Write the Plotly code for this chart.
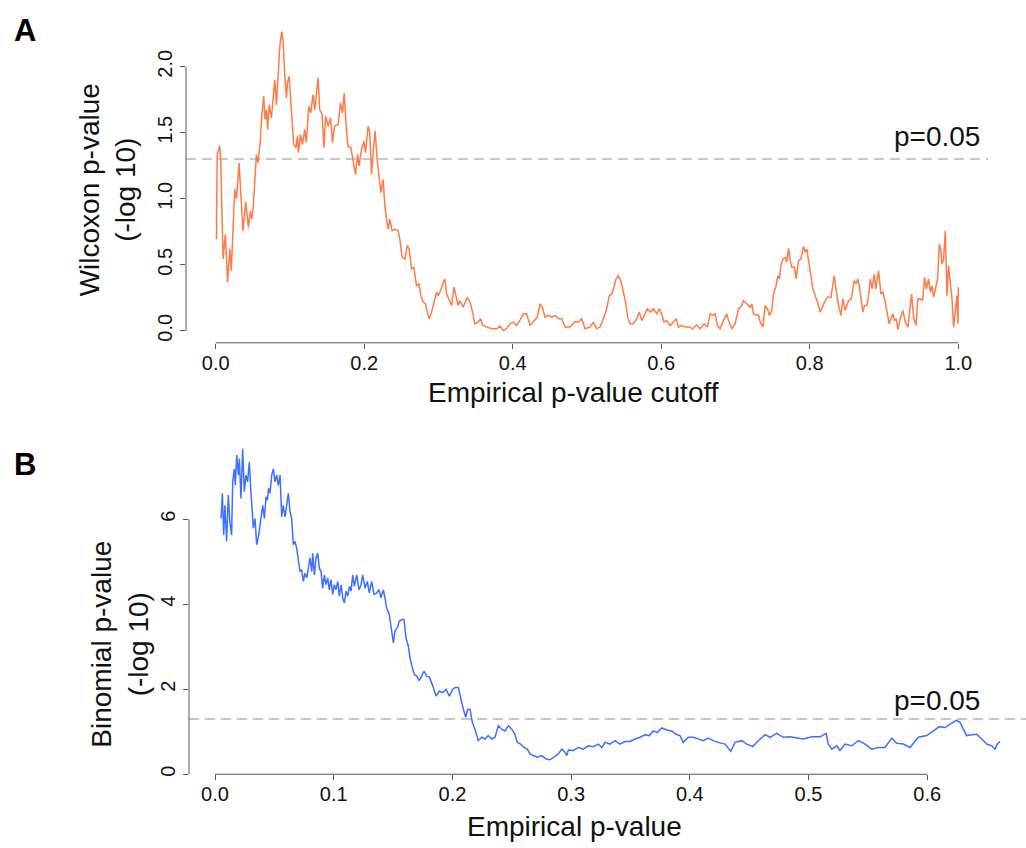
import plotly.graph_objects as go

# ---------------- Panel A data: Wilcoxon p-value (-log10) vs empirical p-value cutoff
A_points = [
    (0.001, 0.694), (0.002, 1.336), (0.0054, 1.40), (0.0067, 1.30), (0.0099, 0.543), (0.013, 0.73),
    (0.016, 0.367), (0.019, 0.62), (0.021, 0.455), (0.0225, 0.694), (0.0256, 1.07), (0.028, 1.0),
    (0.0315, 1.27), (0.0337, 1.047), (0.0368, 0.757), (0.0404, 0.976), (0.044, 0.782), (0.0467, 0.908),
    (0.0485, 0.845), (0.0503, 0.92), (0.0526, 1.147), (0.0548, 1.336), (0.057, 1.27), (0.060, 1.436),
    (0.062, 1.625), (0.0647, 1.776), (0.0665, 1.6), (0.0683, 1.675), (0.070, 1.525), (0.072, 1.713),
    (0.075, 1.613), (0.0795, 1.90), (0.0818, 1.713), (0.084, 1.889), (0.0863, 2.153), (0.089, 2.266),
    (0.0907, 2.20), (0.093, 1.94), (0.0953, 1.763), (0.0966, 1.877), (0.0988, 1.927), (0.1007, 1.776),
    (0.1028, 1.625), (0.105, 1.411), (0.108, 1.386), (0.110, 1.474), (0.1114, 1.349), (0.1141, 1.487),
    (0.1168, 1.411), (0.120, 1.525), (0.122, 1.424), (0.1253, 1.70), (0.128, 1.65), (0.131, 1.789),
    (0.1334, 1.675), (0.1357, 1.826), (0.1379, 1.915), (0.140, 1.675), (0.1433, 1.638), (0.1456, 1.386),
    (0.148, 1.625), (0.1514, 1.55), (0.1546, 1.613), (0.1573, 1.424), (0.160, 1.55), (0.165, 1.562),
    (0.168, 1.726), (0.1707, 1.65), (0.173, 1.80), (0.176, 1.525), (0.178, 1.40), (0.182, 1.386),
    (0.185, 1.30), (0.1883, 1.185), (0.191, 1.336), (0.193, 1.248), (0.1963, 1.374), (0.1995, 1.436),
    (0.2017, 1.349), (0.2053, 1.55), (0.2075, 1.50), (0.2098, 1.185), (0.212, 1.349), (0.2147, 1.512),
    (0.2174, 1.30), (0.220, 1.172), (0.2224, 1.047), (0.2255, 1.147), (0.2278, 0.946), (0.230, 0.845),
    (0.2323, 0.77), (0.2345, 0.845), (0.2376, 0.757), (0.2412, 0.77), (0.2457, 0.757), (0.248, 0.694),
    (0.251, 0.556), (0.2547, 0.543), (0.2578, 0.644), (0.2605, 0.619), (0.2637, 0.468), (0.2668, 0.481),
    (0.2704, 0.342), (0.2736, 0.355), (0.2763, 0.266), (0.2794, 0.217), (0.2826, 0.204), (0.2848, 0.141),
    (0.2875, 0.091), (0.2907, 0.141), (0.2938, 0.217), (0.2974, 0.292), (0.2996, 0.266), (0.3028, 0.304),
    (0.3064, 0.367), (0.3086, 0.392), (0.311, 0.279), (0.3144, 0.229), (0.3176, 0.191), (0.3208, 0.33),
    (0.3235, 0.266), (0.3266, 0.191),
    (0.3288, 0.229), (0.3333, 0.179), (0.3387, 0.254), (0.3423, 0.217), (0.346, 0.141), (0.349, 0.053),
    (0.3535, 0.066), (0.3567, 0.091), (0.3594, 0.04), (0.3648, 0.028), (0.3715, 0.015), (0.3783, 0.015),
    (0.3827, 0.035), (0.3872, 0.002), (0.3917, 0.015), (0.3962, 0.053), (0.4007, 0.066), (0.4052, 0.04),
    (0.4097, 0.078), (0.4142, 0.128), (0.4187, 0.128), (0.4232, 0.04), (0.4277, 0.066), (0.433, 0.103),
    (0.4367, 0.204), (0.440, 0.179), (0.4434, 0.103), (0.448, 0.116), (0.4524, 0.103), (0.4569, 0.116),
    (0.4614, 0.091), (0.466, 0.091), (0.4704, 0.028), (0.4771, 0.028), (0.4838, 0.07), (0.4883, 0.066),
    (0.4928, 0.091), (0.4973, 0.015), (0.504, 0.028), (0.5085, 0.066), (0.513, 0.015), (0.5175, 0.028),
    (0.522, 0.091), (0.5265, 0.166), (0.530, 0.266), (0.5333, 0.279), (0.5364, 0.33), (0.539, 0.392),
    (0.5422, 0.417), (0.5454, 0.38), (0.549, 0.292), (0.552, 0.217), (0.5548, 0.103), (0.558, 0.053),
    (0.5624, 0.053), (0.567, 0.091), (0.5705, 0.141), (0.5737, 0.078), (0.5782, 0.128), (0.5813, 0.166),
    (0.585, 0.141), (0.5894, 0.166), (0.594, 0.128), (0.5974, 0.166), (0.6006, 0.128), (0.6038, 0.066),
    (0.6074, 0.078), (0.6119, 0.04), (0.6164, 0.066), (0.62, 0.091), (0.6231, 0.028), (0.6276, 0.04),
    (0.632, 0.028), (0.638, 0.028), (0.6424, 0.015), (0.6478, 0.045), (0.6523, 0.015), (0.6577, 0.053),
    (0.6622, 0.028), (0.6658, 0.128), (0.6694, 0.116), (0.6725, 0.128), (0.6756, 0.04), (0.6792, 0.015),
    (0.6837, 0.078), (0.6883, 0.128), (0.6905, 0.078), (0.695, 0.015), (0.6995, 0.053), (0.704, 0.166),
    (0.7085, 0.191),
    (0.7107, 0.229), (0.7152, 0.204), (0.7197, 0.179), (0.722, 0.204), (0.7242, 0.128), (0.731, 0.116),
    (0.7332, 0.066), (0.7368, 0.028), (0.74, 0.191), (0.743, 0.166), (0.7457, 0.116), (0.7489, 0.153),
    (0.7511, 0.279), (0.7547, 0.342), (0.757, 0.417), (0.7592, 0.392), (0.761, 0.493), (0.7637, 0.543),
    (0.7668, 0.556), (0.769, 0.518), (0.7713, 0.624), (0.7736, 0.531), (0.7758, 0.481), (0.7794, 0.481),
    (0.7817, 0.392), (0.7848, 0.531), (0.788, 0.543), (0.7915, 0.639), (0.7938, 0.594), (0.796, 0.619),
    (0.7983, 0.531), (0.8015, 0.392), (0.8042, 0.317), (0.8073, 0.266), (0.8105, 0.217), (0.814, 0.141),
    (0.8177, 0.191), (0.8208, 0.229), (0.824, 0.254), (0.8285, 0.254), (0.8312, 0.355), (0.833, 0.417),
    (0.8356, 0.304), (0.8388, 0.191), (0.842, 0.116), (0.8446, 0.242), (0.8477, 0.153), (0.8522, 0.229),
    (0.8558, 0.242), (0.858, 0.304), (0.8598, 0.38), (0.8625, 0.355), (0.8647, 0.392), (0.867, 0.33),
    (0.8688, 0.242), (0.8715, 0.141), (0.8737, 0.191), (0.8769, 0.191), (0.879, 0.254), (0.8814, 0.392),
    (0.884, 0.317), (0.8868, 0.43), (0.889, 0.317), (0.8926, 0.455), (0.8958, 0.279), (0.8985, 0.292),
    (0.9016, 0.217), (0.9039, 0.153), (0.907, 0.053), (0.9093, 0.091), (0.912, 0.128), (0.9142, 0.078),
    (0.9164, 0.091), (0.9187, 0.008), (0.9218, 0.091), (0.9254, 0.153), (0.9286, 0.066), (0.9322, 0.028),
    (0.9344, 0.153), (0.9371, 0.279), (0.9398, 0.103), (0.943, 0.04), (0.9457, 0.242), (0.9488, 0.242),
    (0.9519, 0.229), (0.9546, 0.405), (0.9569, 0.317), (0.96, 0.392), (0.9623, 0.292), (0.9645, 0.342),
    (0.9667, 0.254), (0.97, 0.342), (0.9721, 0.392), (0.9744, 0.657), (0.9767, 0.606), (0.978, 0.506),
    (0.9802, 0.543), (0.9825, 0.757), (0.9848, 0.266), (0.9869, 0.493), (0.9892, 0.367), (0.9915, 0.242),
    (0.9937, 0.028), (0.996, 0.141), (0.9982, 0.266), (0.9996, 0.053), (1.0, 0.33),
]

# ---------------- Panel B data: Binomial p-value (-log10) vs empirical p-value
B_points = [
    (0.0051, 6.02), (0.0062, 6.61), (0.0073, 5.63), (0.0084, 6.33), (0.0098, 5.48), (0.0112, 6.57),
    (0.0126, 5.91), (0.014, 5.63), (0.0149, 6.88), (0.0163, 7.19), (0.0171, 6.80), (0.0183, 7.51),
    (0.0197, 7.04), (0.0205, 7.43), (0.0219, 6.49), (0.0233, 7.66), (0.0247, 6.65), (0.0261, 7.04),
    (0.0275, 6.88), (0.0289, 7.35), (0.0301, 6.73), (0.0312, 6.33), (0.0323, 5.79), (0.0337, 6.02),
    (0.0351, 5.40), (0.0368, 5.63), (0.0385, 6.02), (0.0402, 6.33), (0.0416, 6.02), (0.043, 6.53),
    (0.0441, 6.45), (0.0452, 6.73), (0.0463, 6.61), (0.0478, 7.04), (0.0492, 7.19), (0.0505, 6.88),
    (0.052, 7.04), (0.0533, 6.80), (0.0548, 7.04), (0.0562, 6.06), (0.0575, 6.33), (0.059, 6.06),
    (0.0604, 6.33), (0.0618, 6.61), (0.0632, 6.18), (0.0646, 6.02), (0.066, 5.40), (0.0674, 5.48),
    (0.0688, 5.32), (0.0702, 5.01), (0.0716, 4.77), (0.073, 4.81), (0.0744, 4.54), (0.0758, 4.73),
    (0.0773, 4.62), (0.0786, 4.85), (0.08, 5.09), (0.0815, 4.77), (0.0823, 5.20), (0.0837, 4.69),
    (0.0851, 5.09), (0.0865, 5.20), (0.0879, 4.85), (0.0893, 4.77), (0.0907, 4.38), (0.0921, 4.69),
    (0.0935, 4.46), (0.0949, 4.62), (0.0963, 4.34), (0.0977, 4.58), (0.0991, 4.23), (0.1005, 4.46),
    (0.1019, 4.34), (0.1034, 4.54), (0.1047, 4.19), (0.1062, 4.46), (0.1076, 4.15), (0.109, 4.03),
    (0.1104, 4.31), (0.1118, 4.19), (0.1132, 4.42), (0.1146, 4.31), (0.116, 4.69), (0.1174, 4.42),
    (0.1194, 4.69), (0.1213, 4.34), (0.123, 4.46), (0.1244, 4.69), (0.1264, 4.38), (0.1283, 4.54),
    (0.13, 4.27), (0.132, 4.54), (0.134, 4.23), (0.1362, 4.27), (0.1382, 4.34), (0.1398, 4.15),
    (0.1418, 4.34), (0.1432, 4.15), (0.1446, 3.91), (0.1468, 3.76), (0.1488, 3.41), (0.1503, 3.09),
    (0.1516, 3.37), (0.1536, 3.45), (0.1553, 3.60), (0.1573, 3.64), (0.1592, 3.64), (0.1609, 3.21),
    (0.1629, 3.02), (0.1643, 2.74), (0.1662, 2.51), (0.1679, 2.35), (0.1699, 2.31), (0.1721, 2.20),
    (0.1741, 2.31), (0.1761, 2.43), (0.1783, 2.31), (0.1806, 2.29),
    (0.1839, 2.04), (0.1862, 1.84), (0.189, 1.96), (0.1918, 1.92), (0.1946, 2.00), (0.1974, 1.84),
    (0.2003, 2.00), (0.2022, 2.04), (0.205, 2.04), (0.207, 1.76), (0.2092, 1.53), (0.2112, 1.34),
    (0.2129, 1.53), (0.2148, 1.53), (0.2168, 1.22), (0.219, 1.06), (0.2218, 0.79), (0.2247, 0.87),
    (0.2275, 0.83), (0.2302, 0.91), (0.2331, 0.83), (0.2359, 0.87), (0.2387, 1.14), (0.2415, 1.06),
    (0.2443, 1.02), (0.2471, 1.14), (0.25, 1.06), (0.2527, 0.94), (0.2547, 0.75), (0.2575, 0.71),
    (0.2603, 0.63), (0.2631, 0.59), (0.2654, 0.48), (0.2682, 0.44), (0.2715, 0.40), (0.2752, 0.44),
    (0.2789, 0.36), (0.2822, 0.34), (0.2856, 0.40), (0.2892, 0.48), (0.2921, 0.59), (0.2949, 0.52),
    (0.2963, 0.44), (0.2977, 0.57), (0.3019, 0.56), (0.3061, 0.63), (0.3103, 0.59), (0.3145, 0.67),
    (0.3187, 0.65), (0.3229, 0.71), (0.3258, 0.63), (0.3286, 0.75), (0.3328, 0.71), (0.337, 0.79),
    (0.3412, 0.71), (0.3454, 0.77), (0.3496, 0.77), (0.3538, 0.83), (0.358, 0.87), (0.3623, 0.93),
    (0.3659, 0.91), (0.3693, 1.02), (0.3727, 0.98), (0.3763, 1.09), (0.3805, 1.04), (0.3848, 1.02),
    (0.3884, 0.94), (0.3917, 0.91), (0.3945, 0.75), (0.3987, 0.87), (0.403, 0.87), (0.4072, 0.83),
    (0.4114, 0.79), (0.4156, 0.85), (0.4198, 0.79),
    (0.424, 0.75), (0.4297, 0.71), (0.4345, 0.54), (0.4381, 0.75), (0.4437, 0.79), (0.4479, 0.71),
    (0.453, 0.65), (0.4577, 0.79), (0.4634, 0.93), (0.4676, 0.87), (0.4732, 0.96), (0.4788, 0.87),
    (0.4844, 0.88), (0.49, 0.85), (0.4957, 0.83), (0.5027, 0.88), (0.5097, 0.88), (0.5148, 0.96),
    (0.5167, 0.71), (0.5196, 0.59), (0.5238, 0.67), (0.5265, 0.56), (0.5307, 0.71), (0.5364, 0.67),
    (0.542, 0.79), (0.5476, 0.71), (0.5532, 0.59), (0.5588, 0.63), (0.5644, 0.63), (0.5701, 0.85),
    (0.5743, 0.73), (0.5799, 0.71), (0.5855, 0.63), (0.5925, 0.87), (0.5996, 0.91), (0.6052, 1.02),
    (0.6102, 1.12), (0.615, 1.10), (0.6198, 1.18), (0.6243, 1.27), (0.6276, 1.22), (0.6304, 1.06),
    (0.6332, 0.91), (0.6374, 0.93), (0.6417, 0.94), (0.6459, 0.83), (0.6501, 0.71), (0.6543, 0.67),
    (0.6571, 0.59), (0.659, 0.71), (0.6613, 0.77),
]

P_THRESHOLD = 1.30103  # -log10(0.05)

A_xticks = [0.0, 0.2, 0.4, 0.6, 0.8, 1.0]
A_xticktext = ["0.0", "0.2", "0.4", "0.6", "0.8", "1.0"]
A_yticks = [0.0, 0.5, 1.0, 1.5, 2.0]
A_yticktext = ["0.0", "0.5", "1.0", "1.5", "2.0"]
B_xticks = [0.0, 0.1, 0.2, 0.3, 0.4, 0.5, 0.6]
B_xticktext = ["0.0", "0.1", "0.2", "0.3", "0.4", "0.5", "0.6"]
B_yticks = [0, 2, 4, 6]
B_yticktext = ["0", "2", "4", "6"]

a_x = [p[0] for p in A_points]
a_y = [p[1] for p in A_points]
b_x = [p[0] for p in B_points]
b_y = [p[1] for p in B_points]

W, H = 1026, 848
FONT = "Liberation Sans, Arial, Helvetica, sans-serif"
AXC = "#555555"
ORANGE = "#FF7A45"
BLUE = "#3F6FFF"
TITLE_SIZE = 28

fig = go.Figure()
fig.add_trace(go.Scatter(x=a_x, y=a_y, mode="lines", line=dict(color=ORANGE, width=1.5),
                         xaxis="x", yaxis="y", showlegend=False, hoverinfo="skip"))
fig.add_trace(go.Scatter(x=b_x, y=b_y, mode="lines", line=dict(color=BLUE, width=1.5),
                         xaxis="x2", yaxis="y2", showlegend=False, hoverinfo="skip"))

def px_x(p):
    return p / W

def px_y(p):
    return 1 - p / H

tickfont = dict(family=FONT, size=20, color="#111111")
axis_common = dict(showgrid=False, zeroline=False, showline=False, ticks="outside",
                   ticklen=5, tickwidth=1, tickcolor=AXC, tickfont=tickfont)

fig.update_layout(
    width=W, height=H,
    margin=dict(l=0, r=0, t=0, b=0),
    paper_bgcolor="white", plot_bgcolor="white",
    font=dict(family=FONT, color="#111111"),
    xaxis=dict(domain=[px_x(186), px_x(988)], range=[-0.04, 1.04], anchor="y",
               tickvals=A_xticks, ticktext=A_xticktext, ticklabelstandoff=-3, **axis_common),
    yaxis=dict(domain=[px_y(344), px_y(19)], range=[-0.091, 2.362], anchor="x",
               tickvals=A_yticks, ticktext=A_yticktext, tickangle=-90, **axis_common),
    xaxis2=dict(domain=[px_x(189), 1.0], range=[-0.0219, 0.6832], anchor="y2",
                tickvals=B_xticks, ticktext=B_xticktext, ticklabelstandoff=-3, **axis_common),
    yaxis2=dict(domain=[px_y(777), px_y(438)], range=[0.0, 7.95], anchor="x2",
                tickvals=B_yticks, ticktext=B_yticktext, tickangle=-90, **axis_common),
)

# R-style axis lines spanning first to last tick
fig.add_shape(type="line", xref="x", yref="y domain", x0=A_xticks[0], x1=A_xticks[-1], y0=0, y1=0,
              line=dict(color=AXC, width=1))
fig.add_shape(type="line", xref="x domain", yref="y", x0=0, x1=0, y0=A_yticks[0], y1=A_yticks[-1],
              line=dict(color=AXC, width=1))
fig.add_shape(type="line", xref="x2", yref="y2 domain", x0=B_xticks[0], x1=B_xticks[-1], y0=0, y1=0,
              line=dict(color=AXC, width=1))
fig.add_shape(type="line", xref="x2 domain", yref="y2", x0=0, x1=0, y0=B_yticks[0], y1=B_yticks[-1],
              line=dict(color=AXC, width=1))

# p = 0.05 threshold lines
for xr, yr in (("x domain", "y"), ("x2 domain", "y2")):
    fig.add_shape(type="line", xref=xr, yref=yr, x0=0, x1=1, y0=P_THRESHOLD, y1=P_THRESHOLD,
                  line=dict(color="#B4B4B4", width=1.6, dash="10px,6px"), layer="below")

ann = []
tfont = dict(family=FONT, size=TITLE_SIZE, color="#111111")
# threshold labels
ann.append(dict(text="p=0.05", xref="paper", yref="paper", x=px_x(937), y=px_y(137),
                xanchor="center", yanchor="middle", showarrow=False, font=tfont))
ann.append(dict(text="p=0.05", xref="paper", yref="paper", x=px_x(937), y=px_y(703),
                xanchor="center", yanchor="middle", showarrow=False, font=tfont))
# axis titles
ann.append(dict(text="Empirical p-value cutoff", xref="paper", yref="paper", x=px_x(573), y=px_y(394),
                xanchor="center", yanchor="middle", showarrow=False, font=tfont))
ann.append(dict(text="Empirical p-value", xref="paper", yref="paper", x=px_x(574), y=px_y(829),
                xanchor="center", yanchor="middle", showarrow=False, font=tfont))
ann.append(dict(text="Wilcoxon p-value<br>(-log 10)", xref="paper", yref="paper", x=px_x(107), y=px_y(191),
                xanchor="center", yanchor="middle", showarrow=False, textangle=-90, font=tfont))
ann.append(dict(text="Binomial p-value<br>(-log 10)", xref="paper", yref="paper", x=px_x(120), y=px_y(647),
                xanchor="center", yanchor="middle", showarrow=False, textangle=-90, font=tfont))
# panel letters
ann.append(dict(text="<b>A</b>", xref="paper", yref="paper", x=px_x(25), y=px_y(31),
                xanchor="center", yanchor="middle", showarrow=False,
                font=dict(family=FONT, size=31, color="#000000")))
ann.append(dict(text="<b>B</b>", xref="paper", yref="paper", x=px_x(25), y=px_y(466),
                xanchor="center", yanchor="middle", showarrow=False,
                font=dict(family=FONT, size=31, color="#000000")))
fig.update_layout(annotations=ann)

fig.write_html("out.html")
